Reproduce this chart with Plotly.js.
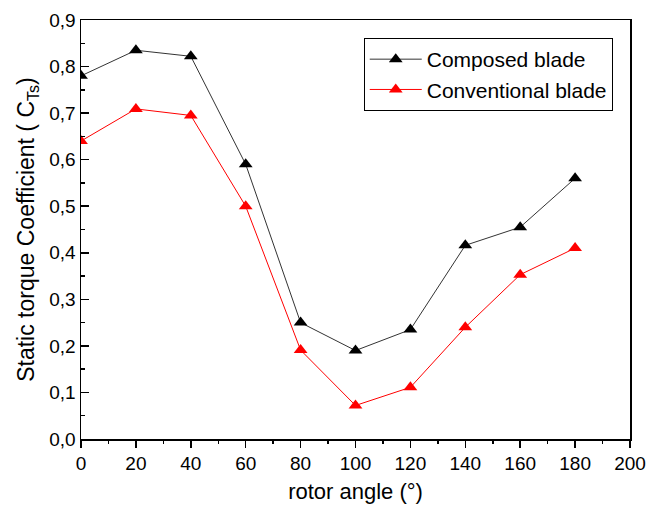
<!DOCTYPE html>
<html>
<head>
<meta charset="utf-8">
<script src="https://cdn.plot.ly/plotly-3.0.1.min.js"></script>
<style>html,body{margin:0;padding:0;background:#fff;}#chart{width:646px;height:506px;}</style>
</head>
<body>
<div id="chart"></div>
<script>
const angles = [0, 20, 40, 60, 80, 100, 120, 140, 160, 180];
const composed = [0.78, 0.835, 0.822, 0.59, 0.25, 0.19, 0.235, 0.416, 0.455, 0.56];
const conventional = [0.64, 0.709, 0.695, 0.50, 0.191, 0.072, 0.111, 0.24, 0.353, 0.41];
const seriesNames = ["Composed blade", "Conventional blade"];

const font = "'Liberation Sans', Arial, sans-serif";

const traces = [
  {
    x: angles, y: composed, name: seriesNames[0], type: "scatter", mode: "lines+markers",
    line: {color: "#333333", width: 1},
    marker: {symbol: "triangle-up", size: 12, color: "#000000"}
  },
  {
    x: angles, y: conventional, name: seriesNames[1], type: "scatter", mode: "lines+markers",
    line: {color: "#ff0000", width: 1},
    marker: {symbol: "triangle-up", size: 12, color: "#ff0000"}
  }
];

const layout = {
  width: 646, height: 506,
  margin: {l: 81, r: 16, t: 20, b: 67},
  paper_bgcolor: "#fff", plot_bgcolor: "#fff",
  separators: ",.",
  font: {family: font, size: 19, color: "#000"},
  showlegend: true,
  legend: {
    x: 0.515, y: 0.957, xanchor: "left", yanchor: "top",
    bordercolor: "#000", borderwidth: 1, bgcolor: "#fff",
    font: {family: font, size: 21, color: "#000"},
    tracegroupgap: 0, itemwidth: 52
  },
  xaxis: {
    range: [0, 200], dtick: 20, tick0: 0,
    showgrid: false, zeroline: false,
    showline: true, linecolor: "#000", linewidth: 1.5, mirror: true,
    ticks: "outside", ticklen: 7, tickwidth: 1.5, tickcolor: "#000",
    minor: {dtick: 10, ticks: "outside", ticklen: 3.5, tickwidth: 1.5, tickcolor: "#000", showgrid: false},
    tickfont: {family: font, size: 19},
    title: {text: "rotor angle (°)", font: {family: font, size: 22}, standoff: 10}
  },
  yaxis: {
    range: [0, 0.9], dtick: 0.1, tick0: 0, tickformat: ".1f",
    showgrid: false, zeroline: false,
    showline: true, linecolor: "#000", linewidth: 1.5, mirror: true,
    ticks: "inside", ticklen: 8, tickwidth: 1.5, tickcolor: "#000",
    minor: {dtick: 0.05, ticks: "inside", ticklen: 4, tickwidth: 1.5, tickcolor: "#000", showgrid: false},
    tickfont: {family: font, size: 19},
    title: {text: "Static torque Coefficient ( C<sub>Ts</sub>)", font: {family: font, size: 23}, standoff: 8}
  }
};

Plotly.newPlot("chart", traces, layout, {displayModeBar: false, staticPlot: true});
</script>
</body>
</html>
